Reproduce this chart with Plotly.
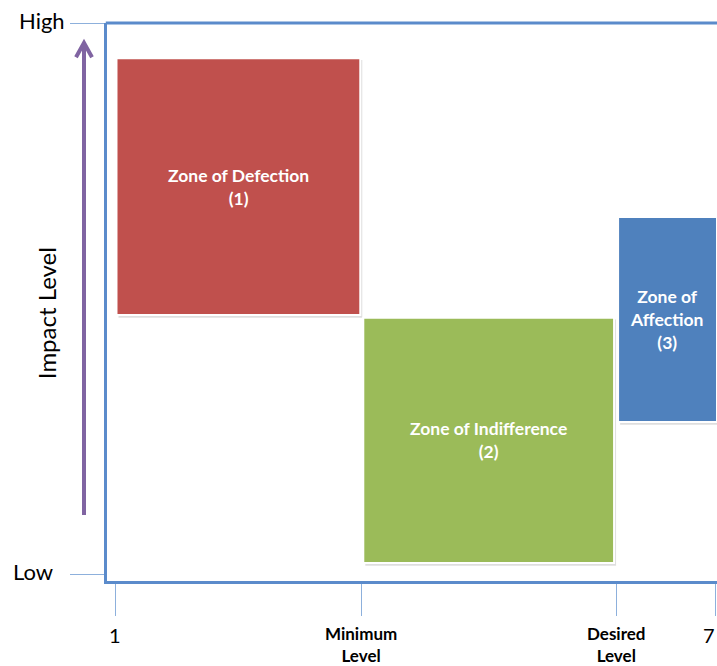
import plotly.graph_objects as go

# Data
zone_names = ["Zone of Defection<br>(1)", "Zone of Indifference<br>(2)", "Zone of<br>Affection<br>(3)"]
zone_x0 = [1.01, 3.48, 6.03]
zone_x1 = [3.45, 5.99, 7.02]
zone_y0 = [4.70, 0.20, 2.76]
zone_y1 = [9.36, 4.65, 6.48]
zone_colors = ["#C0504D", "#9BBB59", "#4F81BD"]

x_tickvals = [1, 3.46, 6.01, 7]
x_ticktext = ["1", "<b>Minimum<br>Level</b>", "<b>Desired<br>Level</b>", "7"]
x_ticksize = [20, 17, 17, 20]
y_tickvals = [0, 10]
y_ticktext = ["Low", "High"]

FONT = "Lato"
AXIS_BLUE = "#5B8BCB"
TICK_BLUE = "#8DB0DC"
Y_RANGE = [-0.127, 10]
X_RANGE = [0.915, 7.02]

fig = go.Figure()
fig.add_trace(go.Scatter(x=[None], y=[None], showlegend=False, hoverinfo="skip"))

shapes = []
annotations = []

# shadows + rectangles
for x0, x1, y0, y1, c, name in zip(zone_x0, zone_x1, zone_y0, zone_y1, zone_colors, zone_names):
    shapes.append(dict(type="rect", xref="x", yref="y", x0=x0 + 0.02, x1=x1 + 0.02,
                       y0=y0 - 0.05, y1=y1 - 0.03, fillcolor="rgba(0,0,0,0.13)",
                       line=dict(width=0), layer="above"))
    shapes.append(dict(type="rect", xref="x", yref="y", x0=x0, x1=x1, y0=y0, y1=y1,
                       fillcolor=c, line=dict(color="white", width=2), layer="above"))
    annotations.append(dict(x=(x0 + min(x1, 7.0)) / 2, y=(y0 + y1) / 2, xref="x", yref="y",
                            text=f"<b>{name}</b>", showarrow=False,
                            font=dict(family=FONT, size=17.5, color="white")))

# top border line of the box
shapes.append(dict(type="line", xref="paper", yref="paper", x0=-0.002, x1=1.0, y0=1, y1=1,
                   line=dict(color=AXIS_BLUE, width=3)))

# purple arrow (shaft + chevron)
shapes.append(dict(type="line", xref="paper", yref="y", x0=-0.0377, x1=-0.0377, y0=1.07, y1=9.62,
                   line=dict(color="#8064A2", width=4)))
shapes.append(dict(type="path", xref="paper", yref="y",
                   path="M -0.0508 9.38 L -0.0377 9.64 L -0.0246 9.38",
                   line=dict(color="#8064A2", width=4)))

# x tick labels
for v, t, s in zip(x_tickvals, x_ticktext, x_ticksize):
    last = v == x_tickvals[-1]
    annotations.append(dict(x=1.0 if last else v, y=-0.071, xref="paper" if last else "x",
                            yref="paper", text=t, showarrow=False,
                            xanchor="right" if last else "center", yanchor="top",
                            font=dict(family=FONT, size=s, color="black")))

# y tick labels (paper coords so they are not hidden at the range edge)
for v, t in zip(y_tickvals, y_ticktext):
    py = (v - Y_RANGE[0]) / (Y_RANGE[1] - Y_RANGE[0])
    annotations.append(dict(x=-0.065 if t == "High" else -0.086, y=py + 0.004,
                            xref="paper", yref="paper", text=t, showarrow=False,
                            xanchor="right", yanchor="middle",
                            font=dict(family=FONT, size=22, color="black")))

annotations.append(dict(x=-0.10, y=0.48, xref="paper", yref="paper", text="Impact Level",
                        showarrow=False, textangle=-90, xanchor="center", yanchor="middle",
                        font=dict(family=FONT, size=24, color="black")))

fig.update_layout(
    width=717, height=666,
    margin=dict(l=107, r=0, t=23, b=85),
    plot_bgcolor="white", paper_bgcolor="white",
    shapes=shapes, annotations=annotations,
    showlegend=False,
    xaxis=dict(range=X_RANGE, showgrid=False, zeroline=False,
               showline=True, linecolor=AXIS_BLUE, linewidth=3,
               tickvals=x_tickvals, ticks="outside", ticklen=32, tickwidth=1,
               tickcolor=TICK_BLUE, showticklabels=False, fixedrange=True),
    yaxis=dict(range=Y_RANGE, showgrid=False, zeroline=False,
               showline=True, linecolor=AXIS_BLUE, linewidth=3,
               tickvals=y_tickvals, ticks="outside", ticklen=34, tickwidth=1,
               tickcolor=TICK_BLUE, showticklabels=False, fixedrange=True),
)

fig.write_html("out.html")
